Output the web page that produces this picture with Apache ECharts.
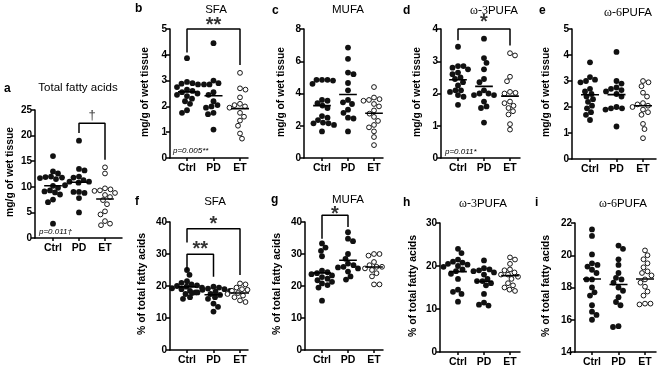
<!DOCTYPE html>
<html><head><meta charset="utf-8">
<script src="https://cdn.jsdelivr.net/npm/echarts@6/dist/echarts.min.js"></script>
<style>html,body{margin:0;padding:0;background:#fff}#c{width:669px;height:369px}</style>
</head><body><div id="c"></div>
<script>
const groups = ['Ctrl', 'PD', 'ET'];

// a: Total fatty acids (mg/g wet tissue)
const aCtrl = [16.0, 13.0, 12.6, 12.0, 11.9, 11.8, 11.7, 11.5, 10.2, 9.8, 9.3, 9.1, 8.9, 8.5, 7.5, 7.0, 2.8];
const aPD = [19.0, 13.5, 13.2, 12.0, 11.8, 11.3, 11.0, 11.0, 10.8, 10.3, 9.0, 8.8, 9.0, 7.8, 5.0];
const aET = [13.8, 12.6, 9.7, 9.5, 9.3, 9.2, 8.8, 8.4, 8.0, 7.4, 6.6, 5.2, 4.6, 3.3, 2.8, 2.5];
// b: SFA mg/g
const bCtrl = [3.87, 2.95, 2.9, 2.88, 2.85, 2.75, 2.65, 2.6, 2.55, 2.5, 2.45, 2.4, 2.3, 2.2, 2.1, 1.85, 1.75];
const bPD = [4.45, 3.0, 2.9, 2.85, 2.85, 2.55, 2.45, 2.2, 2.05, 2.0, 1.95, 1.75, 1.7, 1.1];
const bET = [3.3, 2.7, 2.65, 2.35, 2.1, 2.05, 2.0, 1.95, 1.9, 1.9, 1.75, 1.6, 1.45, 1.25, 0.95, 0.75];
// c: MUFA mg/g
const cCtrl = [4.85, 4.85, 4.85, 4.8, 4.6, 3.6, 3.55, 3.4, 3.25, 3.1, 2.6, 2.5, 2.35, 2.2, 2.15, 2.15, 2.05, 1.65];
const cPD = [6.85, 6.15, 5.3, 5.2, 4.65, 4.2, 3.6, 3.45, 3.35, 3.0, 2.8, 2.5, 2.45, 1.65];
const cET = [4.4, 3.75, 3.65, 3.6, 3.55, 3.45, 3.35, 3.2, 2.95, 2.75, 2.55, 2.3, 2.05, 1.9, 1.65, 1.3, 0.8];
// d: w-3 PUFA mg/g
const dCtrl = [3.45, 2.85, 2.85, 2.8, 2.75, 2.65, 2.6, 2.5, 2.45, 2.35, 2.25, 2.1, 2.1, 2.05, 1.95, 1.9, 1.65];
const dPD = [3.7, 3.1, 2.95, 2.75, 2.45, 2.35, 2.1, 2.0, 2.0, 1.95, 1.95, 1.75, 1.6, 1.55, 1.1];
const dET = [3.25, 3.18, 2.52, 2.38, 2.05, 2.02, 2.0, 1.95, 1.75, 1.7, 1.62, 1.55, 1.45, 1.35, 1.05, 0.88];
// e: w-6 PUFA mg/g
const eCtrl = [3.72, 3.15, 3.05, 3.0, 2.95, 2.7, 2.6, 2.5, 2.4, 2.3, 2.2, 2.05, 1.95, 1.8, 1.7, 1.5];
const ePD = [4.12, 3.0, 2.9, 2.75, 2.7, 2.65, 2.6, 2.5, 2.4, 2.0, 1.95, 1.95, 1.9, 1.25];
const eET = [3.0, 2.95, 2.8, 2.55, 2.4, 2.15, 2.1, 2.05, 2.0, 1.9, 1.8, 1.7, 1.35, 1.15, 0.8];
// f: SFA %
const fCtrl = [25.0, 23.5, 21.5, 21.0, 20.5, 20.2, 20.0, 19.8, 19.5, 19.3, 19.0, 18.5, 18.0, 17.5, 16.5, 16.0];
const fPD = [19.8, 19.5, 19.2, 19.0, 18.8, 18.5, 18.2, 18.0, 17.8, 17.5, 17.2, 16.5, 16.0, 14.5, 13.5, 12.0];
const fET = [20.8, 20.5, 19.5, 19.0, 18.8, 18.5, 18.0, 17.8, 17.5, 17.0, 16.5, 16.5, 16.0, 15.5, 15.0];
// g: MUFA %
const gCtrl = [33.3, 32.0, 31.0, 29.3, 24.8, 24.3, 24.0, 23.7, 23.3, 22.8, 22.3, 21.8, 21.3, 20.8, 20.3, 19.5, 15.4];
const gPD = [36.8, 34.8, 34.0, 30.0, 28.5, 27.0, 26.5, 26.0, 25.8, 25.5, 24.5, 23.0, 22.0];
const gET = [30.0, 30.0, 29.5, 29.0, 27.5, 26.5, 26.0, 26.0, 25.5, 25.0, 24.0, 23.0, 20.5, 20.5];
// h: w-3 PUFA %
const hCtrl = [24.0, 23.0, 21.5, 21.0, 20.8, 20.5, 20.3, 20.0, 19.8, 19.2, 18.8, 18.2, 17.0, 14.5, 14.0, 13.5, 11.7];
const hPD = [21.3, 19.5, 19.2, 19.0, 18.8, 18.5, 18.0, 17.0, 16.5, 16.5, 16.0, 15.5, 13.5, 11.5, 11.0, 10.8];
const hET = [22.0, 21.5, 20.5, 19.2, 19.0, 18.5, 18.0, 18.0, 17.5, 17.0, 16.0, 15.5, 15.0, 14.5, 14.2];
// i: w-6 PUFA %
const iCtrl = [21.6, 21.2, 20.05, 19.5, 19.4, 19.3, 19.1, 18.9, 18.5, 18.5, 18.0, 17.7, 17.5, 16.9, 16.5, 16.3, 16.0];
const iPD = [20.6, 20.4, 19.75, 19.4, 18.9, 18.6, 18.5, 18.3, 18.0, 17.8, 17.4, 17.1, 16.9, 15.6, 15.55];
const iET = [20.3, 20.0, 19.75, 19.5, 19.25, 19.0, 18.9, 18.75, 18.5, 18.3, 18.05, 17.75, 17.5, 17.0, 17.0, 16.95];

// y axis ranges [min, max, interval]
const yRangeMg = { a: [0, 25, 5], b: [0, 5, 1], c: [0, 8, 2], d: [0, 4, 1], e: [0, 5, 1] };
const yRangePct = { f: [0, 40, 10], g: [0, 40, 10], h: [0, 30, 10], i: [14, 22, 2] };

// significance brackets: [fromGroup, toGroup, leftLegY, topY, rightLegY, mark, markY]
const aBr = [[1, 2, 20.5, 22.4, 15.3, '†', 24.0]];
const bBr = [[0, 2, 4.09, 5.0, 3.6, '**', 5.28]];
const dBr = [[0, 2, 3.65, 4.0, 3.49, '*', 4.33]];
const fBr = [[0, 2, 33.6, 37.9, 23.4, '*', 40.4], [0, 1, 24.9, 29.9, 22.9, '**', 32.6]];
const gBr = [[0, 1, 34.8, 42.1, 38.4, '*', 43.6]];

const pText = { a: 'p=0.011†', b: 'p=0.005**', d: 'p=0.011*' };

const F = 'Liberation Sans, Arial, Helvetica, sans-serif';
const MG = 'mg/g of wet tissue', PCT = '% of total fatty acids';

const panels = [
  { k: 'a', title: 'Total fatty acids', ylab: MG, data: [aCtrl, aPD, aET], y: yRangeMg.a, br: aBr, L: 35, R: 122, T: 110, B: 238, c0: 53, sp: 26, let: [4, 89], tt: [78, 88], yl: [10, 172], pp: [39, 232] },
  { k: 'b', title: 'SFA', ylab: MG, data: [bCtrl, bPD, bET], y: yRangeMg.b, br: bBr, L: 170, R: 248, T: 29, B: 158, c0: 187, sp: 26.5, let: [135, 9], tt: [216, 10], yl: [145, 92], pp: [173, 151] },
  { k: 'c', title: 'MUFA', ylab: MG, data: [cCtrl, cPD, cET], y: yRangeMg.c, br: [], L: 304, R: 383, T: 29, B: 158, c0: 322, sp: 26, let: [272, 11], tt: [348, 10], yl: [281, 92] },
  { k: 'd', title: 'ω-3|PUFA', ylab: MG, data: [dCtrl, dPD, dET], y: yRangeMg.d, br: dBr, L: 441, R: 520, T: 29, B: 158, c0: 458, sp: 26, let: [403, 11], tt: [494, 11], yl: [417, 92], pp: [445, 152] },
  { k: 'e', title: 'ω-6|PUFA', ylab: MG, data: [eCtrl, ePD, eET], y: yRangeMg.e, br: [], L: 572, R: 656, T: 29, B: 159, c0: 590, sp: 26.5, let: [539, 11], tt: [628, 13], yl: [546, 92] },
  { k: 'f', title: 'SFA', ylab: PCT, data: [fCtrl, fPD, fET], y: yRangePct.f, br: fBr, L: 170, R: 248, T: 222, B: 350, c0: 187, sp: 26.5, let: [135, 202], tt: [215, 202], yl: [142, 284] },
  { k: 'g', title: 'MUFA', ylab: PCT, data: [gCtrl, gPD, gET], y: yRangePct.g, br: gBr, L: 305, R: 383, T: 222, B: 350, c0: 322, sp: 26, let: [271, 200], tt: [348, 200], yl: [277, 284] },
  { k: 'h', title: 'ω-3|PUFA', ylab: PCT, data: [hCtrl, hPD, hET], y: yRangePct.h, br: [], L: 440, R: 520, T: 223, B: 352, c0: 458, sp: 26, let: [403, 203], tt: [483, 204], yl: [413, 286] },
  { k: 'i', title: 'ω-6|PUFA', ylab: PCT, data: [iCtrl, iPD, iET], y: yRangePct.i, br: [], L: 575, R: 656, T: 223, B: 352, c0: 592, sp: 26.5, let: [535, 203], tt: [623, 204], yl: [546, 286] }
];

function mean(a) { return a.reduce((s, v) => s + v, 0) / a.length; }

// deterministic beeswarm layout (pixel space) -> offsets in category units
function swarm(vals, sy, sx, D) {
  const idx = vals.map((v, i) => i).sort((a, b) => vals[b] - vals[a]);
  const placed = [];
  const off = new Array(vals.length).fill(0);
  let side = 1;
  idx.forEach(i => {
    const y = vals[i] * sy;
    let chosen = 0;
    for (let s = 0; s <= 60; s += 0.5) {
      const cands = s === 0 ? [0] : [side * s, -side * s];
      let found = null;
      for (const c of cands) {
        if (placed.every(p => (p[0] - c) ** 2 + (p[1] - y) ** 2 >= D * D)) { found = c; break; }
      }
      if (found !== null) { chosen = found; if (s > 0) side = -side; break; }
    }
    placed.push([chosen, y]);
    off[i] = chosen / sx;
  });
  return off;
}

const grid = [], xAxis = [], yAxis = [], series = [], graphic = [];
panels.forEach((p, k) => {
  grid.push({ left: p.L, top: p.T, width: p.R - p.L, height: p.B - p.T });
  xAxis.push({
    type: 'value', gridIndex: k, min: (p.L - p.c0) / p.sp, max: (p.R - p.c0) / p.sp,
    splitLine: { show: false },
    axisLine: { show: true, onZero: false, lineStyle: { color: '#000', width: 1.5 } },
    axisTick: { show: true, customValues: [0, 1, 2], length: 3, lineStyle: { color: '#000', width: 1.5 } },
    axisLabel: { show: true, customValues: [0, 1, 2], formatter: v => groups[Math.round(v)], color: '#000', fontWeight: 'bold', fontSize: 10.5, fontFamily: F, margin: 5 }
  });
  yAxis.push({
    type: 'value', gridIndex: k, min: p.y[0], max: p.y[1], interval: p.y[2],
    splitLine: { show: false },
    axisLine: { show: true, onZero: false, lineStyle: { color: '#000', width: 1.5 } },
    axisTick: { show: true, length: 4, lineStyle: { color: '#000', width: 1.5 } },
    axisLabel: { color: '#000', fontWeight: 'bold', fontSize: 10, fontFamily: F, margin: 3 }
  });
  const sy = (p.B - p.T) / (p.y[1] - p.y[0]);
  p.data.forEach((vals, g) => {
    const offs = swarm(vals, sy, p.sp, 5.4);
    const open = g === 2;
    series.push({
      type: 'scatter', xAxisIndex: k, yAxisIndex: k, symbol: 'circle', symbolSize: open ? 4.8 : 5.8,
      data: vals.map((v, j) => [g + offs[j], v]),
      itemStyle: open ? { color: '#fff', borderColor: '#000', borderWidth: 0.9, opacity: 1 } : { color: '#111', opacity: 1 },
      silent: true, animation: false, z: 2
    });
    const m = mean(vals);
    series.push({
      type: 'line', xAxisIndex: k, yAxisIndex: k, data: [[g - 0.34, m], [g + 0.34, m]],
      symbol: 'none', lineStyle: { color: '#000', width: 1.6 }, z: 3, animation: false, silent: true
    });
  });
  p.br.forEach(b => {
    series.push({
      type: 'line', xAxisIndex: k, yAxisIndex: k, clip: false,
      data: [[b[0], b[2]], [b[0], b[3]], [b[1], b[3]], [b[1], b[4]]],
      symbol: 'none', lineStyle: { color: '#000', width: 1.5 }, z: 4, animation: false, silent: true
    });
    const dagger = b[5] === '†';
    series.push({
      type: 'scatter', xAxisIndex: k, yAxisIndex: k, clip: false, symbolSize: 1,
      itemStyle: { color: 'rgba(0,0,0,0)' },
      data: [[(b[0] + b[1]) / 2, b[6]]],
      label: { show: true, position: 'inside', formatter: b[5], color: '#000', fontFamily: F,
        fontSize: dagger ? 13 : 20, fontWeight: dagger ? 'normal' : 'bold', offset: [0, dagger ? 0 : 4] },
      z: 5, animation: false, silent: true
    });
  });
  // panel letter
  graphic.push({ type: 'text', x: p.let[0], y: p.let[1], style: { text: p.k, font: 'bold 12px ' + F, fill: '#000', align: 'left', verticalAlign: 'middle' } });
  // title
  if (p.title.indexOf('|') >= 0) {
    const parts = p.title.split('|');
    graphic.push({ type: 'text', x: p.tt[0], y: p.tt[1], style: {
      text: '{s|' + parts[0] + '}{n|' + parts[1] + '}', align: 'center', verticalAlign: 'middle', fill: '#000',
      rich: { s: { fontFamily: 'Liberation Serif, Times New Roman, serif', fontSize: 12, fill: '#000' }, n: { fontFamily: F, fontSize: 11.5, fill: '#000' } } } });
  } else {
    graphic.push({ type: 'text', x: p.tt[0], y: p.tt[1], style: { text: p.title, font: '11.5px ' + F, fill: '#000', align: 'center', verticalAlign: 'middle' } });
  }
  // y axis title
  graphic.push({ type: 'text', x: p.yl[0], y: p.yl[1], rotation: Math.PI / 2, style: { text: p.ylab, font: 'bold ' + (p.ylab === PCT ? 10.5 : 10.3) + 'px ' + F, fill: '#000', align: 'center', verticalAlign: 'middle' } });
  if (pText[p.k]) {
    graphic.push({ type: 'text', x: p.pp[0], y: p.pp[1], style: { text: pText[p.k], font: 'italic 8px ' + F, fill: '#000', align: 'left', verticalAlign: 'middle' } });
  }
});

const chart = echarts.init(document.getElementById('c'), null, { renderer: 'canvas' });
chart.setOption({ backgroundColor: '#fff', animation: false, grid, xAxis, yAxis, series, graphic });
</script></body></html>
